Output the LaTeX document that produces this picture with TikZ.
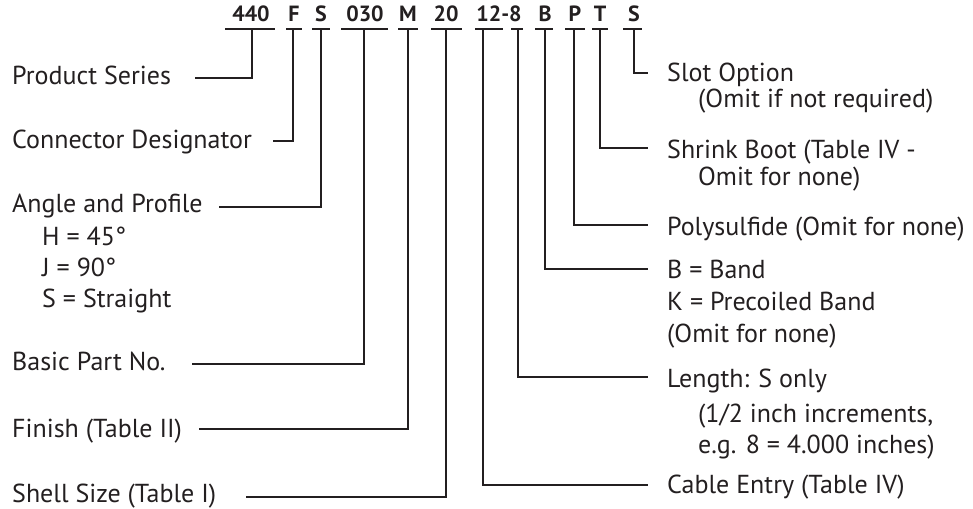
\documentclass[tikz,border=0pt]{standalone}
\usepackage{fontspec}
\setmainfont{PT Sans}
\definecolor{ink}{HTML}{231F20}
\begin{document}
\begin{tikzpicture}[x=1pt,y=-1pt,
  lbl/.style={anchor=base west, inner sep=0pt, text=ink, font=\fontsize{26}{30}\selectfont},
  code/.style={anchor=base, inner sep=0pt, text=ink, font=\fontsize{22}{26}\selectfont\bfseries},
  ul/.style={draw=ink, line width=2pt},
  conn/.style={draw=ink, line width=2pt}]
\useasboundingbox (0,0) rectangle (973,508);
% code
\node[code] (k1) at (251,22) {440};
\node[code] (k2) at (294,22) {F};
\node[code] (k3) at (321,22) {S};
\node[code] (k4) at (365,22) {030};
\node[code] (k5) at (408,22) {M};
\node[code] (k6) at (446,22) {20};
\node[code] (k7) at (499,22) {12-8};
\node[code] (k8) at (545,22) {B};
\node[code] (k9) at (575,22) {P};
\node[code] (k10) at (600,22) {T};
\node[code] (k11) at (634,22) {S};
% underlines
\foreach \a/\b in {225/275,286/302,312/330,341/388,398/418,431/462,475/503,511/523,535/553,565/585,592/608,623/642}
  \draw[ul] (\a,29.5) -- (\b,29.5);
% attach points
\coordinate (u1) at (252,29.5);
\coordinate (u2) at (293,29.5);
\coordinate (u3) at (321,29.5);
\coordinate (u4) at (364,29.5);
\coordinate (u5) at (408,29.5);
\coordinate (u6) at (446,29.5);
\coordinate (u7) at (483,29.5);
\coordinate (u8) at (518,29.5);
\coordinate (u9) at (545,29.5);
\coordinate (u10) at (574,29.5);
\coordinate (u11) at (600,29.5);
\coordinate (u12) at (634,29.5);
% left labels
\node[lbl] (l1) at (12,85) {Product Series};
\node[lbl] (l2) at (12,148) {Connector Designator};
\node[lbl] (l3) at (12,212) {Angle and Profile};
\node[lbl] (l3a) at (42,245) {H = 45°};
\node[lbl] (l3b) at (42,276) {J = 90°};
\node[lbl] (l3c) at (42,307) {S = Straight};
\node[lbl] (l4) at (12,370) {Basic Part No.};
\node[lbl] (l5) at (12,437) {Finish (Table II)};
\node[lbl] (l6) at (12,502) {Shell Size (Table I)};
\coordinate (e1) at (195,78);
\coordinate (e2) at (273,141);
\coordinate (e3) at (219,207);
\coordinate (e4) at (192,364);
\coordinate (e5) at (199,429);
\coordinate (e6) at (246,497);
\draw[conn] (u1) |- (e1);
\draw[conn] (u2) |- (e2);
\draw[conn] (u3) |- (e3);
\draw[conn] (u4) |- (e4);
\draw[conn] (u5) |- (e5);
\draw[conn] (u6) |- (e6);
% right labels
\node[lbl] (r1) at (667,82) {Slot Option};
\node[lbl] (r1b) at (698,107) {(Omit if not required)};
\node[lbl] (r2) at (667,158) {Shrink Boot (Table IV -};
\node[lbl] (r2b) at (698,185) {Omit for none)};
\node[lbl] (r3) at (667,235) {Polysulfide (Omit for none)};
\node[lbl] (r4) at (667,278) {B = Band};
\node[lbl] (r4b) at (667,310) {K = Precoiled Band};
\node[lbl] (r4c) at (667,342) {(Omit for none)};
\node[lbl] (r5) at (667,387) {Length: S only};
\node[lbl] (r5b) at (698,422) {(1/2 inch increments,};
\node[lbl] (r5c) at (698,453) {e.g. 8 = 4.000 inches)};
\node[lbl] (r6) at (667,493) {Cable Entry (Table IV)};
\coordinate (f12) at (648,73);
\coordinate (f11) at (648,148);
\coordinate (f10) at (648,225);
\coordinate (f9) at (648,269);
\coordinate (f8) at (648,377);
\coordinate (f7) at (648,485);
\draw[conn] (u12) |- (f12);
\draw[conn] (u11) |- (f11);
\draw[conn] (u10) |- (f10);
\draw[conn] (u9) |- (f9);
\draw[conn] (u8) |- (f8);
\draw[conn] (u7) |- (f7);
\end{tikzpicture}
\end{document}
